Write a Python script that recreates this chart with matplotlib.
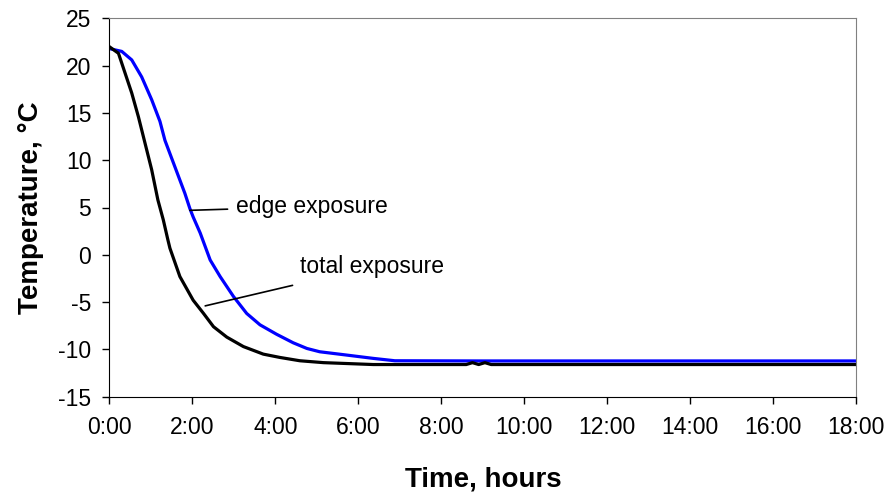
import matplotlib.pyplot as plt
from matplotlib.ticker import FuncFormatter

plt.rcParams["font.family"] = ["Liberation Sans", "DejaVu Sans"]
plt.rcParams["axes.unicode_minus"] = False

# time in hours, temperature in degC
edge_t = [0.0, 0.3, 0.54, 0.78, 1.02, 1.22, 1.34, 1.58, 1.82, 1.94, 2.02,
          2.19, 2.43, 2.67, 2.99, 3.31, 3.63, 4.03, 4.43, 4.76, 5.07, 5.72,
          6.36, 6.88, 9.0, 12.0, 15.0, 18.0]
edge_T = [21.8, 21.5, 20.6, 18.8, 16.4, 14.1, 12.1, 9.3, 6.5, 4.9, 4.0,
          2.3, -0.55, -2.3, -4.4, -6.2, -7.4, -8.4, -9.3, -9.9, -10.25, -10.6,
          -10.95, -11.2, -11.22, -11.22, -11.22, -11.22]

total_t = [0.0, 0.22, 0.38, 0.54, 0.70, 0.86, 1.02, 1.17, 1.30, 1.41, 1.46,
           1.70, 2.02, 2.27, 2.51, 2.83, 3.23, 3.71, 4.11, 4.59, 5.16, 6.36,
           8.6, 8.75, 8.9, 9.05, 9.2, 12.0, 15.0, 18.0]
total_T = [22.0, 21.3, 19.2, 17.1, 14.6, 11.8, 9.0, 5.8, 3.7, 1.6, 0.7,
           -2.3, -4.8, -6.2, -7.6, -8.7, -9.7, -10.5, -10.85, -11.2, -11.4, -11.6,
           -11.6, -11.4, -11.6, -11.4, -11.6, -11.6, -11.6, -11.6]

x_ticks = list(range(0, 19, 2))
y_ticks = list(range(-15, 26, 5))

fig = plt.figure(figsize=(8.91, 5.0), dpi=100)
ax = fig.add_axes([0.1227, 0.2066, 0.8384, 0.7568])

ax.plot(edge_t, edge_T, color="#0000ff", linewidth=2.3)
ax.plot(total_t, total_T, color="black", linewidth=2.3)

ax.set_xlim(0, 18)
ax.set_ylim(-15, 25)
ax.set_xticks(x_ticks)
ax.set_yticks(y_ticks)
ax.xaxis.set_major_formatter(FuncFormatter(lambda v, p: f"{int(v)}:00"))
ax.tick_params(direction="out", length=5, width=1, labelsize=16.5, color="black")
ax.tick_params(axis="y", pad=8)
ax.tick_params(axis="x", pad=9)

for s in ["top", "right"]:
    ax.spines[s].set_color("#808080")
for s in ["left", "bottom"]:
    ax.spines[s].set_color("black")

ax.set_xlabel("Time, hours", fontsize=20, fontweight="bold", labelpad=20)
ax.set_ylabel("Temperature, °C", fontsize=20, fontweight="bold", labelpad=10)

ax.annotate("edge exposure", xy=(1.94, 4.7), xytext=(3.05, 5.1),
            fontsize=16.5, va="center", ha="left",
            arrowprops=dict(arrowstyle="-", color="black", lw=1.2,
                            shrinkA=4, shrinkB=0))
ax.annotate("total exposure", xy=(2.31, -5.4), xytext=(4.6, -1.25),
            fontsize=16.5, va="center", ha="left",
            arrowprops=dict(arrowstyle="-", color="black", lw=1.2,
                            shrinkA=14, shrinkB=0))

fig.savefig("out.png", dpi=100)
